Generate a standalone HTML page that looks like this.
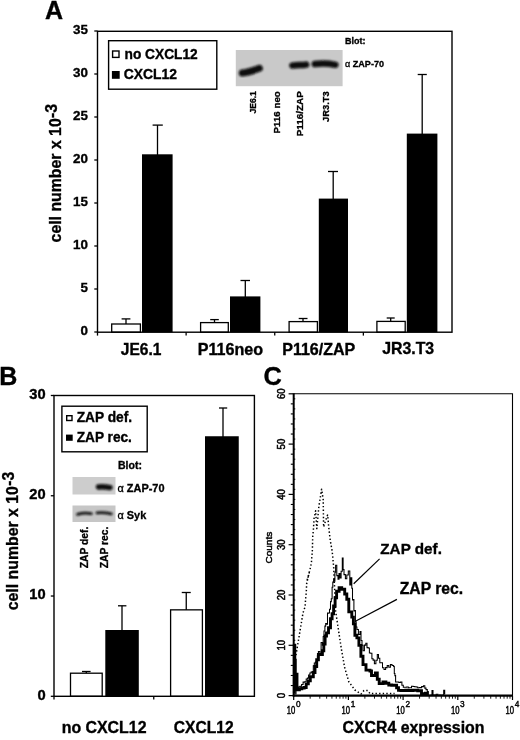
<!DOCTYPE html>
<html><head><meta charset="utf-8"><title>Figure</title>
<style>
html,body{margin:0;padding:0;background:#fff;}
svg{display:block;font-family:"Liberation Sans", Arial, Helvetica, sans-serif;fill:#000;}
</style></head><body>
<svg width="520" height="740" viewBox="0 0 520 740">
<defs><filter id="bl" x="-20%" y="-50%" width="140%" height="200%"><feGaussianBlur stdDeviation="0.9"/></filter></defs>
<rect x="0" y="0" width="520" height="740" fill="#fff" stroke="none"/>
<text x="45.1" y="19.4" font-size="25" font-weight="bold" text-anchor="start" stroke="#000" stroke-width="0.35">A</text>
<line x1="126" y1="318.9" x2="126" y2="324.4" stroke="#000" stroke-width="1.3"/>
<line x1="121.6" y1="318.9" x2="130.4" y2="318.9" stroke="#000" stroke-width="1.3"/>
<rect x="111.69999999999999" y="324.0" width="28.7" height="8.2" fill="#fff" stroke="#000" stroke-width="1.3"/>
<line x1="157.5" y1="125.1" x2="157.5" y2="155.3" stroke="#000" stroke-width="1.3"/>
<line x1="152.6" y1="125.1" x2="162.8" y2="125.1" stroke="#000" stroke-width="1.3"/>
<rect x="142" y="154.3" width="30.6" height="177.9" fill="#000" stroke="none" stroke-width="0"/>
<line x1="214.5" y1="319.6" x2="214.5" y2="323" stroke="#000" stroke-width="1.3"/>
<line x1="210.2" y1="319.6" x2="218.8" y2="319.6" stroke="#000" stroke-width="1.3"/>
<rect x="200.6" y="322.6" width="27.7" height="9.6" fill="#fff" stroke="#000" stroke-width="1.3"/>
<line x1="245.3" y1="280.5" x2="245.3" y2="297.4" stroke="#000" stroke-width="1.3"/>
<line x1="240.5" y1="280.5" x2="250" y2="280.5" stroke="#000" stroke-width="1.3"/>
<rect x="230" y="296.4" width="30.4" height="35.8" fill="#000" stroke="none" stroke-width="0"/>
<line x1="303" y1="318.5" x2="303" y2="322" stroke="#000" stroke-width="1.3"/>
<line x1="298.7" y1="318.5" x2="307.5" y2="318.5" stroke="#000" stroke-width="1.3"/>
<rect x="289.1" y="321.6" width="28.3" height="10.6" fill="#fff" stroke="#000" stroke-width="1.3"/>
<line x1="333.2" y1="171.5" x2="333.2" y2="199.6" stroke="#000" stroke-width="1.3"/>
<line x1="328" y1="171.5" x2="338" y2="171.5" stroke="#000" stroke-width="1.3"/>
<rect x="318.8" y="198.6" width="29.2" height="133.6" fill="#000" stroke="none" stroke-width="0"/>
<line x1="390.7" y1="318" x2="390.7" y2="321.8" stroke="#000" stroke-width="1.3"/>
<line x1="386.7" y1="318" x2="394.7" y2="318" stroke="#000" stroke-width="1.3"/>
<rect x="376.90000000000003" y="321.40000000000003" width="28.3" height="10.8" fill="#fff" stroke="#000" stroke-width="1.3"/>
<line x1="422.2" y1="74.5" x2="422.2" y2="134.6" stroke="#000" stroke-width="1.3"/>
<line x1="417.7" y1="74.5" x2="426.8" y2="74.5" stroke="#000" stroke-width="1.3"/>
<rect x="406.8" y="133.6" width="30.6" height="198.6" fill="#000" stroke="none" stroke-width="0"/>
<rect x="97.5" y="31.3" width="354.5" height="300.9" fill="none" stroke="#000" stroke-width="1.4"/>
<line x1="94.3" y1="332.0" x2="97.5" y2="332.0" stroke="#000" stroke-width="1.3"/>
<text x="88" y="335.1" font-size="13.4" font-weight="bold" text-anchor="end" textLength="7.45" lengthAdjust="spacingAndGlyphs" stroke="#000" stroke-width="0.35">0</text>
<line x1="94.3" y1="289.0" x2="97.5" y2="289.0" stroke="#000" stroke-width="1.3"/>
<text x="88" y="292.1" font-size="13.4" font-weight="bold" text-anchor="end" textLength="7.45" lengthAdjust="spacingAndGlyphs" stroke="#000" stroke-width="0.35">5</text>
<line x1="94.3" y1="246.0" x2="97.5" y2="246.0" stroke="#000" stroke-width="1.3"/>
<text x="88" y="249.1" font-size="13.4" font-weight="bold" text-anchor="end" textLength="14.9" lengthAdjust="spacingAndGlyphs" stroke="#000" stroke-width="0.35">10</text>
<line x1="94.3" y1="203.0" x2="97.5" y2="203.0" stroke="#000" stroke-width="1.3"/>
<text x="88" y="206.1" font-size="13.4" font-weight="bold" text-anchor="end" textLength="14.9" lengthAdjust="spacingAndGlyphs" stroke="#000" stroke-width="0.35">15</text>
<line x1="94.3" y1="160.0" x2="97.5" y2="160.0" stroke="#000" stroke-width="1.3"/>
<text x="88" y="163.1" font-size="13.4" font-weight="bold" text-anchor="end" textLength="14.9" lengthAdjust="spacingAndGlyphs" stroke="#000" stroke-width="0.35">20</text>
<line x1="94.3" y1="117.0" x2="97.5" y2="117.0" stroke="#000" stroke-width="1.3"/>
<text x="88" y="120.1" font-size="13.4" font-weight="bold" text-anchor="end" textLength="14.9" lengthAdjust="spacingAndGlyphs" stroke="#000" stroke-width="0.35">25</text>
<line x1="94.3" y1="74.0" x2="97.5" y2="74.0" stroke="#000" stroke-width="1.3"/>
<text x="88" y="77.1" font-size="13.4" font-weight="bold" text-anchor="end" textLength="14.9" lengthAdjust="spacingAndGlyphs" stroke="#000" stroke-width="0.35">30</text>
<line x1="94.3" y1="31.0" x2="97.5" y2="31.0" stroke="#000" stroke-width="1.3"/>
<text x="88" y="34.1" font-size="13.4" font-weight="bold" text-anchor="end" textLength="14.9" lengthAdjust="spacingAndGlyphs" stroke="#000" stroke-width="0.35">35</text>
<line x1="97.5" y1="332.2" x2="97.5" y2="335.6" stroke="#000" stroke-width="1.3"/>
<line x1="186.12" y1="332.2" x2="186.12" y2="335.6" stroke="#000" stroke-width="1.3"/>
<line x1="274.74" y1="332.2" x2="274.74" y2="335.6" stroke="#000" stroke-width="1.3"/>
<line x1="363.36" y1="332.2" x2="363.36" y2="335.6" stroke="#000" stroke-width="1.3"/>
<text x="61.5" y="242.4" font-size="16.6" font-weight="bold" text-anchor="start" textLength="124.1" lengthAdjust="spacingAndGlyphs" transform="rotate(-90 61.5 242.4)" stroke="#000" stroke-width="0.35">cell number x 10</text>
<text x="57" y="118.2" font-size="16" font-weight="bold" text-anchor="start" textLength="14.3" lengthAdjust="spacingAndGlyphs" transform="rotate(-90 57 118.2)" stroke="#000" stroke-width="0.35">-3</text>
<text x="120.8" y="355.2" font-size="15.7" font-weight="bold" text-anchor="start" textLength="40.6" lengthAdjust="spacingAndGlyphs" stroke="#000" stroke-width="0.35">JE6.1</text>
<text x="197.7" y="355.2" font-size="15.7" font-weight="bold" text-anchor="start" textLength="65.4" lengthAdjust="spacingAndGlyphs" stroke="#000" stroke-width="0.35">P116neo</text>
<text x="282.2" y="355.2" font-size="15.7" font-weight="bold" text-anchor="start" textLength="73.1" lengthAdjust="spacingAndGlyphs" stroke="#000" stroke-width="0.35">P116/ZAP</text>
<text x="382.2" y="354" font-size="15.7" font-weight="bold" text-anchor="start" textLength="52" lengthAdjust="spacingAndGlyphs" stroke="#000" stroke-width="0.35">JR3.T3</text>
<rect x="108.6" y="40.7" width="108.2" height="48.5" fill="#fff" stroke="#000" stroke-width="1.4"/>
<rect x="112.6" y="51" width="6.4" height="6.4" fill="#fff" stroke="#000" stroke-width="1.4"/>
<rect x="111.9" y="71" width="7.8" height="7.8" fill="#000" stroke="none" stroke-width="0"/>
<text x="124.5" y="59" font-size="13.8" font-weight="bold" text-anchor="start" textLength="73.2" lengthAdjust="spacingAndGlyphs" stroke="#000" stroke-width="0.35">no CXCL12</text>
<text x="123.8" y="79.4" font-size="13.8" font-weight="bold" text-anchor="start" textLength="53.2" lengthAdjust="spacingAndGlyphs" stroke="#000" stroke-width="0.35">CXCL12</text>
<rect x="235.8" y="50" width="106.8" height="36.2" fill="#c9c9c9"/>
<g filter="url(#bl)">
<path d="M242.3,72.9 C248,72.5 254,70.4 259.3,68.3" fill="none" stroke="#0a0a0a" stroke-width="7" stroke-linecap="round"/>
<path d="M292.4,65.6 C297,64.6 302,65.5 306.2,64.6" fill="none" stroke="#0a0a0a" stroke-width="6.4" stroke-linecap="round"/>
<path d="M314.8,64 C321,63.2 329,63.4 335.4,64.8" fill="none" stroke="#0a0a0a" stroke-width="6.4" stroke-linecap="round"/>
</g>
<text x="345" y="44" font-size="9" font-weight="bold" text-anchor="start" textLength="20.5" lengthAdjust="spacingAndGlyphs" stroke="#000" stroke-width="0.32">Blot:</text>
<text x="345" y="66.8" font-size="9" font-weight="bold" text-anchor="start" textLength="39" lengthAdjust="spacingAndGlyphs" stroke="#000" stroke-width="0.32"><tspan font-weight="normal">α</tspan> ZAP-70</text>
<text x="255.8" y="91.2" font-size="9.3" font-weight="bold" text-anchor="end" textLength="22.3" lengthAdjust="spacingAndGlyphs" transform="rotate(-90 255.8 91.2)" stroke="#000" stroke-width="0.32">JE6.1</text>
<text x="279.6" y="91.2" font-size="9.3" font-weight="bold" text-anchor="end" textLength="42.2" lengthAdjust="spacingAndGlyphs" transform="rotate(-90 279.6 91.2)" stroke="#000" stroke-width="0.32">P116 neo</text>
<text x="303.4" y="91.2" font-size="9.3" font-weight="bold" text-anchor="end" textLength="45" lengthAdjust="spacingAndGlyphs" transform="rotate(-90 303.4 91.2)" stroke="#000" stroke-width="0.32">P116/ZAP</text>
<text x="328.8" y="91.2" font-size="9.3" font-weight="bold" text-anchor="end" textLength="30.7" lengthAdjust="spacingAndGlyphs" transform="rotate(-90 328.8 91.2)" stroke="#000" stroke-width="0.32">JR3.T3</text>
<text x="-0.8" y="384.5" font-size="25" font-weight="bold" text-anchor="start" stroke="#000" stroke-width="0.35">B</text>
<line x1="86.3" y1="671.5" x2="86.3" y2="673.6" stroke="#000" stroke-width="1.3"/>
<line x1="82" y1="671.5" x2="90.6" y2="671.5" stroke="#000" stroke-width="1.3"/>
<rect x="70.5" y="673.2" width="31.7" height="23.1" fill="#fff" stroke="#000" stroke-width="1.3"/>
<line x1="122" y1="605.8" x2="122" y2="631" stroke="#000" stroke-width="1.3"/>
<line x1="118" y1="605.8" x2="126.4" y2="605.8" stroke="#000" stroke-width="1.3"/>
<rect x="105.3" y="630" width="33.5" height="66.3" fill="#000" stroke="none" stroke-width="0"/>
<line x1="186.25" y1="592.5" x2="186.25" y2="610.25" stroke="#000" stroke-width="1.3"/>
<line x1="181.75" y1="592.5" x2="190.75" y2="592.5" stroke="#000" stroke-width="1.3"/>
<rect x="170.6" y="609.85" width="31.8" height="86.45" fill="#fff" stroke="#000" stroke-width="1.3"/>
<line x1="223" y1="408" x2="223" y2="437.25" stroke="#000" stroke-width="1.3"/>
<line x1="219" y1="408" x2="227.2" y2="408" stroke="#000" stroke-width="1.3"/>
<rect x="205" y="436.25" width="33.75" height="260.05" fill="#000" stroke="none" stroke-width="0"/>
<rect x="54" y="395.5" width="200.4" height="300.8" fill="none" stroke="#000" stroke-width="1.4"/>
<line x1="50.8" y1="696.3" x2="54" y2="696.3" stroke="#000" stroke-width="1.3"/>
<text x="45.6" y="699.5999999999999" font-size="14.2" font-weight="bold" text-anchor="end" textLength="8.2" lengthAdjust="spacingAndGlyphs" stroke="#000" stroke-width="0.35">0</text>
<line x1="50.8" y1="596.03" x2="54" y2="596.03" stroke="#000" stroke-width="1.3"/>
<text x="45.6" y="599.3299999999999" font-size="14.2" font-weight="bold" text-anchor="end" textLength="16.3" lengthAdjust="spacingAndGlyphs" stroke="#000" stroke-width="0.35">10</text>
<line x1="50.8" y1="495.76" x2="54" y2="495.76" stroke="#000" stroke-width="1.3"/>
<text x="45.6" y="499.06" font-size="14.2" font-weight="bold" text-anchor="end" textLength="16.3" lengthAdjust="spacingAndGlyphs" stroke="#000" stroke-width="0.35">20</text>
<line x1="50.8" y1="395.48999999999995" x2="54" y2="395.48999999999995" stroke="#000" stroke-width="1.3"/>
<text x="45.6" y="398.78999999999996" font-size="14.2" font-weight="bold" text-anchor="end" textLength="16.3" lengthAdjust="spacingAndGlyphs" stroke="#000" stroke-width="0.35">30</text>
<line x1="54" y1="696.3" x2="54" y2="699.6" stroke="#000" stroke-width="1.3"/>
<line x1="153.75" y1="696.3" x2="153.75" y2="699.6" stroke="#000" stroke-width="1.3"/>
<text x="18.2" y="610.3" font-size="16.6" font-weight="bold" text-anchor="start" textLength="124.2" lengthAdjust="spacingAndGlyphs" transform="rotate(-90 18.2 610.3)" stroke="#000" stroke-width="0.35">cell number x 10</text>
<text x="14.2" y="485.8" font-size="16" font-weight="bold" text-anchor="start" textLength="13.9" lengthAdjust="spacingAndGlyphs" transform="rotate(-90 14.2 485.8)" stroke="#000" stroke-width="0.35">-3</text>
<text x="61.7" y="733" font-size="15.7" font-weight="bold" text-anchor="start" textLength="84.8" lengthAdjust="spacingAndGlyphs" stroke="#000" stroke-width="0.35">no CXCL12</text>
<text x="173.75" y="732.8" font-size="15.6" font-weight="bold" text-anchor="start" textLength="60" lengthAdjust="spacingAndGlyphs" stroke="#000" stroke-width="0.35">CXCL12</text>
<rect x="61.9" y="406.2" width="85.3" height="45.6" fill="#fff" stroke="#000" stroke-width="1.4"/>
<rect x="66.7" y="415.7" width="5.3" height="4.8" fill="#fff" stroke="#000" stroke-width="1.4"/>
<rect x="66" y="434.6" width="6.7" height="6.2" fill="#000" stroke="none" stroke-width="0"/>
<text x="76.7" y="422" font-size="14" font-weight="bold" text-anchor="start" textLength="55.4" lengthAdjust="spacingAndGlyphs" stroke="#000" stroke-width="0.35">ZAP def.</text>
<text x="76.7" y="441.7" font-size="14" font-weight="bold" text-anchor="start" textLength="55.2" lengthAdjust="spacingAndGlyphs" stroke="#000" stroke-width="0.35">ZAP rec.</text>
<text x="118" y="468.75" font-size="10.5" font-weight="bold" text-anchor="start" textLength="24" lengthAdjust="spacingAndGlyphs" stroke="#000" stroke-width="0.32">Blot:</text>
<rect x="72.5" y="477" width="43" height="17.5" fill="#cdcdcd"/>
<rect x="72.5" y="505.5" width="43" height="16.5" fill="#c6c6c6"/>
<g filter="url(#bl)">
<path d="M98.5,487 C102,486.6 106,486.9 110,487.6" fill="none" stroke="#0a0a0a" stroke-width="5.4" stroke-linecap="round"/>
<path d="M77.5,514.3 C82,513 87,513 91.3,513.6" fill="none" stroke="#111" stroke-width="2.8" stroke-linecap="round"/>
<path d="M97,512.8 C101,512.3 107,512.8 111.3,513.8" fill="none" stroke="#111" stroke-width="2.8" stroke-linecap="round"/>
</g>
<text x="117.5" y="492" font-size="10.5" font-weight="bold" text-anchor="start" textLength="47" lengthAdjust="spacingAndGlyphs" stroke="#000" stroke-width="0.32"><tspan font-weight="normal">α</tspan> ZAP-70</text>
<text x="117.5" y="518.75" font-size="10.5" font-weight="bold" text-anchor="start" textLength="28.75" lengthAdjust="spacingAndGlyphs" stroke="#000" stroke-width="0.32"><tspan font-weight="normal">α</tspan> Syk</text>
<text x="87.5" y="526.75" font-size="10" font-weight="bold" text-anchor="end" textLength="41.5" lengthAdjust="spacingAndGlyphs" transform="rotate(-90 87.5 526.75)" stroke="#000" stroke-width="0.32">ZAP def.</text>
<text x="107.75" y="526.75" font-size="10" font-weight="bold" text-anchor="end" textLength="41.5" lengthAdjust="spacingAndGlyphs" transform="rotate(-90 107.75 526.75)" stroke="#000" stroke-width="0.32">ZAP rec.</text>
<text x="263.6" y="385.3" font-size="25.3" font-weight="bold" text-anchor="start" stroke="#000" stroke-width="0.35">C</text>
<path d="M293.8,662.0 L296.0,655.0 L300.0,631.0 L303.0,613.0 L305.0,607.0 L306.4,590.0 L306.6,584.0 L308.6,575.0 L307.2,580.0 L309.6,571.0 L308.4,576.0 L310.6,567.0 L311.4,562.7 L312.4,549.7 L312.7,536.8 L313.5,528.6 L314.0,518.9 L315.6,510.8 L316.8,528.6 L318.9,506.0 L320.0,499.5 L321.6,489.2 L323.2,499.5 L323.6,527.0 L325.5,521.0 L327.6,514.9 L328.9,528.6 L330.2,540.0 L332.2,551.4 L333.6,566.0 L335.6,611.0 L338.6,631.0 L341.7,651.0 L344.7,667.6 L348.8,681.8 L354.9,690.0 L361.0,694.0 L364.0,690.5 L367.7,690.5 L370.0,693.6 L394.6,693.6" fill="none" stroke="#000" stroke-width="1.5" stroke-dasharray="1.4 2.2" stroke-linejoin="round"/>
<path d="M294.5,694.0 H296.0 V689.8 H297.3 V689.2 H298.7 V686.7 H300.0 V686.3 H301.6 V684.4 H303.1 V682.1 H304.6 V681.8 H306.2 V678.9 H307.4 V678.1 H308.6 V674.9 H309.9 V672.9 H311.1 V672.1 H312.3 V671.8 H313.3 V665.7 H314.3 V663.0 H315.4 V662.0 H316.4 V660.8 H317.4 V655.8 H318.4 V651.6 H319.7 V652.2 H321.1 V642.5 H322.4 V645.2 H323.2 V636.5 H324.0 V630.9 H324.9 V626.1 H325.7 V623.5 H326.5 V624.3 H327.5 V613.1 H328.5 V613.0 H329.5 V609.3 H330.5 V601.6 H331.3 V598.8 H332.1 V587.3 H332.8 V582.1 H333.6 V579.0 H334.3 V581.1 H334.9 V572.2 H335.6 V565.2 H336.8 V575.6 H338.0 V579.3 H339.0 V573.5 H340.0 V577.9 H341.1 V571.2 H342.3 V558.0 H343.1 V569.6 H344.0 V574.6 H345.4 V578.8 H346.8 V575.0 H348.3 V571.0 H349.8 V584.9 H350.8 V577.7 H351.8 V588.2 H352.5 V600.0 H353.2 V599.5 H353.9 V611.0 H354.6 V610.5 H355.4 V621.7 H356.1 V627.0 H356.9 V629.5 H358.4 V634.4 H360.0 V631.6 H361.0 V640.5 H362.0 V645.3 H363.0 V650.8 H364.4 V645.1 H365.8 V643.2 H367.0 V647.6 H368.2 V648.0 H369.4 V653.0 H370.6 V653.2 H371.9 V658.7 H373.1 V660.1 H374.4 V663.7 H375.9 V660.2 H377.3 V654.5 H378.5 V658.2 H379.8 V662.8 H381.0 V662.7 H382.5 V667.7 H384.0 V669.5 H385.6 V667.6 H387.2 V665.6 H388.8 V667.2 H390.4 V664.5 H392.0 V665.4 H393.6 V666.4 H394.3 V673.4 H394.9 V675.6 H395.6 V681.9 H397.2 V681.9 H398.8 V682.5 H400.4 V682.1 H401.9 V685.3 H403.3 V687.3 H405.0 V687.3 H406.6 V686.9 H408.3 V687.8 H410.0 V687.7 H411.5 V686.2 H413.1 V686.4 H414.6 V686.8 H416.2 V687.0 H417.7 V687.7 H419.6 V687.6 H421.6 V686.6 H423.5 V685.7 H424.8 V688.1 H426.0 V689.6 H427.3 V691.4 H428.3 V695.2 H431.0 V694.9 H432.0 V690.4 H433.0 V694.9 H434.6 V694.9 H436.2 V694.2 H437.9 V695.2 H439.5 V695.0 H441.1 V695.2 H442.7 V695.1 H443.7 V690.2 H444.7 V694.6" fill="none" stroke="#000" stroke-width="1.05" stroke-linejoin="miter"/>
<path d="M294.3,693.6 H294.3 V678.6 H294.3 V661.3 H294.3 V645.2 H294.8 V660.1 H295.3 V674.2 H297.0 V689.8 H299.4 V688.8 H301.8 V688.0 H304.2 V687.5 H306.2 V683.9 H308.3 V680.9 H310.3 V676.7 H313.3 V672.5 H315.0 V666.5 H316.7 V659.7 H318.4 V654.5 H322.4 V650.8 H323.8 V644.0 H325.1 V636.0 H326.5 V632.9 H328.5 V627.8 H330.5 V618.8 H332.1 V613.8 H333.6 V606.0 H335.1 V597.7 H336.6 V591.3 H339.1 V587.6 H341.7 V589.3 H344.7 V594.0 H346.8 V599.2 H348.8 V611.9 H351.8 V617.1 H353.4 V623.9 H354.9 V635.2 H356.9 V637.9 H358.9 V645.4 H360.9 V656.2 H363.0 V664.6 H366.0 V670.1 H370.0 V671.0 H371.5 V675.5 H375.4 V673.0 H377.3 V679.2 H379.2 V683.6 H383.0 V682.0 H385.9 V683.2 H388.8 V685.0 H391.7 V685.4 H394.6 V685.2 H396.6 V687.7 H398.5 V690.4 H400.9 V690.5 H403.3 V690.5 H405.7 V690.1 H408.1 V690.5 H410.5 V690.5 H412.9 V690.2 H415.3 V690.3 H417.7 V690.8 H421.5 V693.8 H425.4 V693.2 H427.0 V695.3" fill="none" stroke="#000" stroke-width="2.9" stroke-linejoin="miter"/>
<path d="M293.7,393.8 H512.5 V695.6" fill="none" stroke="#000" stroke-width="1.1"/>
<line x1="293.7" y1="393.3" x2="293.7" y2="696.6" stroke="#000" stroke-width="2"/>
<line x1="292.7" y1="695.6" x2="513.0" y2="695.6" stroke="#000" stroke-width="2.2"/>
<line x1="288.6" y1="695.6" x2="293.7" y2="695.6" stroke="#000" stroke-width="1.2"/>
<text x="284.6" y="695.6" font-size="10" font-weight="normal" text-anchor="middle" textLength="5.4" lengthAdjust="spacingAndGlyphs" transform="rotate(-90 284.6 695.6)" stroke="#000" stroke-width="0.5">0</text>
<line x1="293.7" y1="690.57" x2="295.3" y2="690.57" stroke="#000" stroke-width="1"/>
<line x1="290.8" y1="685.5400000000001" x2="293.7" y2="685.5400000000001" stroke="#000" stroke-width="1.1"/>
<line x1="293.7" y1="680.51" x2="295.3" y2="680.51" stroke="#000" stroke-width="1"/>
<line x1="290.8" y1="675.48" x2="293.7" y2="675.48" stroke="#000" stroke-width="1.1"/>
<line x1="293.7" y1="670.45" x2="295.3" y2="670.45" stroke="#000" stroke-width="1"/>
<line x1="290.8" y1="665.4200000000001" x2="293.7" y2="665.4200000000001" stroke="#000" stroke-width="1.1"/>
<line x1="293.7" y1="660.39" x2="295.3" y2="660.39" stroke="#000" stroke-width="1"/>
<line x1="290.8" y1="655.36" x2="293.7" y2="655.36" stroke="#000" stroke-width="1.1"/>
<line x1="293.7" y1="650.33" x2="295.3" y2="650.33" stroke="#000" stroke-width="1"/>
<line x1="288.6" y1="645.3000000000001" x2="293.7" y2="645.3000000000001" stroke="#000" stroke-width="1.2"/>
<text x="284.6" y="645.3000000000001" font-size="10" font-weight="normal" text-anchor="middle" textLength="10.6" lengthAdjust="spacingAndGlyphs" transform="rotate(-90 284.6 645.3000000000001)" stroke="#000" stroke-width="0.5">10</text>
<line x1="293.7" y1="640.27" x2="295.3" y2="640.27" stroke="#000" stroke-width="1"/>
<line x1="290.8" y1="635.24" x2="293.7" y2="635.24" stroke="#000" stroke-width="1.1"/>
<line x1="293.7" y1="630.21" x2="295.3" y2="630.21" stroke="#000" stroke-width="1"/>
<line x1="290.8" y1="625.1800000000001" x2="293.7" y2="625.1800000000001" stroke="#000" stroke-width="1.1"/>
<line x1="293.7" y1="620.15" x2="295.3" y2="620.15" stroke="#000" stroke-width="1"/>
<line x1="290.8" y1="615.12" x2="293.7" y2="615.12" stroke="#000" stroke-width="1.1"/>
<line x1="293.7" y1="610.09" x2="295.3" y2="610.09" stroke="#000" stroke-width="1"/>
<line x1="290.8" y1="605.0600000000001" x2="293.7" y2="605.0600000000001" stroke="#000" stroke-width="1.1"/>
<line x1="293.7" y1="600.03" x2="295.3" y2="600.03" stroke="#000" stroke-width="1"/>
<line x1="288.6" y1="595.0" x2="293.7" y2="595.0" stroke="#000" stroke-width="1.2"/>
<text x="284.6" y="595.0" font-size="10" font-weight="normal" text-anchor="middle" textLength="10.6" lengthAdjust="spacingAndGlyphs" transform="rotate(-90 284.6 595.0)" stroke="#000" stroke-width="0.5">20</text>
<line x1="293.7" y1="589.97" x2="295.3" y2="589.97" stroke="#000" stroke-width="1"/>
<line x1="290.8" y1="584.94" x2="293.7" y2="584.94" stroke="#000" stroke-width="1.1"/>
<line x1="293.7" y1="579.91" x2="295.3" y2="579.91" stroke="#000" stroke-width="1"/>
<line x1="290.8" y1="574.88" x2="293.7" y2="574.88" stroke="#000" stroke-width="1.1"/>
<line x1="293.7" y1="569.85" x2="295.3" y2="569.85" stroke="#000" stroke-width="1"/>
<line x1="290.8" y1="564.82" x2="293.7" y2="564.82" stroke="#000" stroke-width="1.1"/>
<line x1="293.7" y1="559.79" x2="295.3" y2="559.79" stroke="#000" stroke-width="1"/>
<line x1="290.8" y1="554.76" x2="293.7" y2="554.76" stroke="#000" stroke-width="1.1"/>
<line x1="293.7" y1="549.73" x2="295.3" y2="549.73" stroke="#000" stroke-width="1"/>
<line x1="288.6" y1="544.7" x2="293.7" y2="544.7" stroke="#000" stroke-width="1.2"/>
<text x="284.6" y="544.7" font-size="10" font-weight="normal" text-anchor="middle" textLength="10.6" lengthAdjust="spacingAndGlyphs" transform="rotate(-90 284.6 544.7)" stroke="#000" stroke-width="0.5">30</text>
<line x1="293.7" y1="539.6700000000001" x2="295.3" y2="539.6700000000001" stroke="#000" stroke-width="1"/>
<line x1="290.8" y1="534.64" x2="293.7" y2="534.64" stroke="#000" stroke-width="1.1"/>
<line x1="293.7" y1="529.61" x2="295.3" y2="529.61" stroke="#000" stroke-width="1"/>
<line x1="290.8" y1="524.58" x2="293.7" y2="524.58" stroke="#000" stroke-width="1.1"/>
<line x1="293.7" y1="519.55" x2="295.3" y2="519.55" stroke="#000" stroke-width="1"/>
<line x1="290.8" y1="514.52" x2="293.7" y2="514.52" stroke="#000" stroke-width="1.1"/>
<line x1="293.7" y1="509.49" x2="295.3" y2="509.49" stroke="#000" stroke-width="1"/>
<line x1="290.8" y1="504.46000000000004" x2="293.7" y2="504.46000000000004" stroke="#000" stroke-width="1.1"/>
<line x1="293.7" y1="499.43" x2="295.3" y2="499.43" stroke="#000" stroke-width="1"/>
<line x1="288.6" y1="494.4" x2="293.7" y2="494.4" stroke="#000" stroke-width="1.2"/>
<text x="284.6" y="494.4" font-size="10" font-weight="normal" text-anchor="middle" textLength="10.6" lengthAdjust="spacingAndGlyphs" transform="rotate(-90 284.6 494.4)" stroke="#000" stroke-width="0.5">40</text>
<line x1="293.7" y1="489.37" x2="295.3" y2="489.37" stroke="#000" stroke-width="1"/>
<line x1="290.8" y1="484.34000000000003" x2="293.7" y2="484.34000000000003" stroke="#000" stroke-width="1.1"/>
<line x1="293.7" y1="479.31" x2="295.3" y2="479.31" stroke="#000" stroke-width="1"/>
<line x1="290.8" y1="474.28" x2="293.7" y2="474.28" stroke="#000" stroke-width="1.1"/>
<line x1="293.7" y1="469.25" x2="295.3" y2="469.25" stroke="#000" stroke-width="1"/>
<line x1="290.8" y1="464.22" x2="293.7" y2="464.22" stroke="#000" stroke-width="1.1"/>
<line x1="293.7" y1="459.19" x2="295.3" y2="459.19" stroke="#000" stroke-width="1"/>
<line x1="290.8" y1="454.16" x2="293.7" y2="454.16" stroke="#000" stroke-width="1.1"/>
<line x1="293.7" y1="449.13" x2="295.3" y2="449.13" stroke="#000" stroke-width="1"/>
<line x1="288.6" y1="444.1" x2="293.7" y2="444.1" stroke="#000" stroke-width="1.2"/>
<text x="284.6" y="444.1" font-size="10" font-weight="normal" text-anchor="middle" textLength="10.6" lengthAdjust="spacingAndGlyphs" transform="rotate(-90 284.6 444.1)" stroke="#000" stroke-width="0.5">50</text>
<line x1="293.7" y1="439.07" x2="295.3" y2="439.07" stroke="#000" stroke-width="1"/>
<line x1="290.8" y1="434.04" x2="293.7" y2="434.04" stroke="#000" stroke-width="1.1"/>
<line x1="293.7" y1="429.01" x2="295.3" y2="429.01" stroke="#000" stroke-width="1"/>
<line x1="290.8" y1="423.98" x2="293.7" y2="423.98" stroke="#000" stroke-width="1.1"/>
<line x1="293.7" y1="418.95" x2="295.3" y2="418.95" stroke="#000" stroke-width="1"/>
<line x1="290.8" y1="413.92" x2="293.7" y2="413.92" stroke="#000" stroke-width="1.1"/>
<line x1="293.7" y1="408.89" x2="295.3" y2="408.89" stroke="#000" stroke-width="1"/>
<line x1="290.8" y1="403.86" x2="293.7" y2="403.86" stroke="#000" stroke-width="1.1"/>
<line x1="293.7" y1="398.83" x2="295.3" y2="398.83" stroke="#000" stroke-width="1"/>
<line x1="288.6" y1="393.8" x2="293.7" y2="393.8" stroke="#000" stroke-width="1.2"/>
<text x="284.6" y="393.8" font-size="10" font-weight="normal" text-anchor="middle" textLength="10.6" lengthAdjust="spacingAndGlyphs" transform="rotate(-90 284.6 393.8)" stroke="#000" stroke-width="0.5">60</text>
<line x1="293.7" y1="695.6" x2="293.7" y2="700" stroke="#000" stroke-width="1.2"/>
<text x="286.8" y="713.5" font-size="10" font-weight="normal" text-anchor="start" textLength="8.5" lengthAdjust="spacingAndGlyphs" stroke="#000" stroke-width="0.45">10</text>
<text x="296.0" y="706.6" font-size="8.6" font-weight="normal" text-anchor="start" textLength="4.6" lengthAdjust="spacingAndGlyphs" stroke="#000" stroke-width="0.4">0</text>
<line x1="310.16634076281974" y1="695.6" x2="310.16634076281974" y2="698.7" stroke="#000" stroke-width="0.9"/>
<line x1="319.7985326331655" y1="695.6" x2="319.7985326331655" y2="698.7" stroke="#000" stroke-width="0.9"/>
<line x1="326.63268152563955" y1="695.6" x2="326.63268152563955" y2="698.7" stroke="#000" stroke-width="0.9"/>
<line x1="331.9336592371802" y1="695.6" x2="331.9336592371802" y2="698.7" stroke="#000" stroke-width="0.9"/>
<line x1="336.2648733959853" y1="695.6" x2="336.2648733959853" y2="698.7" stroke="#000" stroke-width="0.9"/>
<line x1="339.92686278877983" y1="695.6" x2="339.92686278877983" y2="698.7" stroke="#000" stroke-width="0.9"/>
<line x1="343.0990222884593" y1="695.6" x2="343.0990222884593" y2="698.7" stroke="#000" stroke-width="0.9"/>
<line x1="345.8970652663311" y1="695.6" x2="345.8970652663311" y2="698.7" stroke="#000" stroke-width="0.9"/>
<line x1="348.4" y1="695.6" x2="348.4" y2="700" stroke="#000" stroke-width="1.2"/>
<text x="341.5" y="713.5" font-size="10" font-weight="normal" text-anchor="start" textLength="8.5" lengthAdjust="spacingAndGlyphs" stroke="#000" stroke-width="0.45">10</text>
<text x="350.7" y="706.6" font-size="8.6" font-weight="normal" text-anchor="start" textLength="4.6" lengthAdjust="spacingAndGlyphs" stroke="#000" stroke-width="0.4">1</text>
<line x1="364.86634076281973" y1="695.6" x2="364.86634076281973" y2="698.7" stroke="#000" stroke-width="0.9"/>
<line x1="374.4985326331655" y1="695.6" x2="374.4985326331655" y2="698.7" stroke="#000" stroke-width="0.9"/>
<line x1="381.33268152563954" y1="695.6" x2="381.33268152563954" y2="698.7" stroke="#000" stroke-width="0.9"/>
<line x1="386.6336592371802" y1="695.6" x2="386.6336592371802" y2="698.7" stroke="#000" stroke-width="0.9"/>
<line x1="390.9648733959853" y1="695.6" x2="390.9648733959853" y2="698.7" stroke="#000" stroke-width="0.9"/>
<line x1="394.6268627887798" y1="695.6" x2="394.6268627887798" y2="698.7" stroke="#000" stroke-width="0.9"/>
<line x1="397.7990222884593" y1="695.6" x2="397.7990222884593" y2="698.7" stroke="#000" stroke-width="0.9"/>
<line x1="400.5970652663311" y1="695.6" x2="400.5970652663311" y2="698.7" stroke="#000" stroke-width="0.9"/>
<line x1="403.1" y1="695.6" x2="403.1" y2="700" stroke="#000" stroke-width="1.2"/>
<text x="396.20000000000005" y="713.5" font-size="10" font-weight="normal" text-anchor="start" textLength="8.5" lengthAdjust="spacingAndGlyphs" stroke="#000" stroke-width="0.45">10</text>
<text x="405.40000000000003" y="706.6" font-size="8.6" font-weight="normal" text-anchor="start" textLength="4.6" lengthAdjust="spacingAndGlyphs" stroke="#000" stroke-width="0.4">2</text>
<line x1="419.5663407628198" y1="695.6" x2="419.5663407628198" y2="698.7" stroke="#000" stroke-width="0.9"/>
<line x1="429.19853263316554" y1="695.6" x2="429.19853263316554" y2="698.7" stroke="#000" stroke-width="0.9"/>
<line x1="436.0326815256396" y1="695.6" x2="436.0326815256396" y2="698.7" stroke="#000" stroke-width="0.9"/>
<line x1="441.33365923718026" y1="695.6" x2="441.33365923718026" y2="698.7" stroke="#000" stroke-width="0.9"/>
<line x1="445.66487339598535" y1="695.6" x2="445.66487339598535" y2="698.7" stroke="#000" stroke-width="0.9"/>
<line x1="449.32686278877986" y1="695.6" x2="449.32686278877986" y2="698.7" stroke="#000" stroke-width="0.9"/>
<line x1="452.49902228845934" y1="695.6" x2="452.49902228845934" y2="698.7" stroke="#000" stroke-width="0.9"/>
<line x1="455.2970652663311" y1="695.6" x2="455.2970652663311" y2="698.7" stroke="#000" stroke-width="0.9"/>
<line x1="457.8" y1="695.6" x2="457.8" y2="700" stroke="#000" stroke-width="1.2"/>
<text x="450.90000000000003" y="713.5" font-size="10" font-weight="normal" text-anchor="start" textLength="8.5" lengthAdjust="spacingAndGlyphs" stroke="#000" stroke-width="0.45">10</text>
<text x="460.1" y="706.6" font-size="8.6" font-weight="normal" text-anchor="start" textLength="4.6" lengthAdjust="spacingAndGlyphs" stroke="#000" stroke-width="0.4">3</text>
<line x1="474.26634076281977" y1="695.6" x2="474.26634076281977" y2="698.7" stroke="#000" stroke-width="0.9"/>
<line x1="483.89853263316553" y1="695.6" x2="483.89853263316553" y2="698.7" stroke="#000" stroke-width="0.9"/>
<line x1="490.7326815256396" y1="695.6" x2="490.7326815256396" y2="698.7" stroke="#000" stroke-width="0.9"/>
<line x1="496.03365923718025" y1="695.6" x2="496.03365923718025" y2="698.7" stroke="#000" stroke-width="0.9"/>
<line x1="500.36487339598534" y1="695.6" x2="500.36487339598534" y2="698.7" stroke="#000" stroke-width="0.9"/>
<line x1="504.02686278877985" y1="695.6" x2="504.02686278877985" y2="698.7" stroke="#000" stroke-width="0.9"/>
<line x1="507.19902228845933" y1="695.6" x2="507.19902228845933" y2="698.7" stroke="#000" stroke-width="0.9"/>
<line x1="509.9970652663311" y1="695.6" x2="509.9970652663311" y2="698.7" stroke="#000" stroke-width="0.9"/>
<line x1="512.5" y1="695.6" x2="512.5" y2="700" stroke="#000" stroke-width="1.2"/>
<text x="505.6" y="713.5" font-size="10" font-weight="normal" text-anchor="start" textLength="8.5" lengthAdjust="spacingAndGlyphs" stroke="#000" stroke-width="0.45">10</text>
<text x="514.8" y="706.6" font-size="8.6" font-weight="normal" text-anchor="start" textLength="4.6" lengthAdjust="spacingAndGlyphs" stroke="#000" stroke-width="0.4">4</text>
<text x="272.3" y="563.5" font-size="9.6" font-weight="normal" text-anchor="start" textLength="31.7" lengthAdjust="spacingAndGlyphs" transform="rotate(-90 272.3 563.5)" stroke="#000" stroke-width="0.45">Counts</text>
<text x="342.5" y="733.4" font-size="15.8" font-weight="bold" text-anchor="start" textLength="142" lengthAdjust="spacingAndGlyphs" stroke="#000" stroke-width="0.35">CXCR4 expression</text>
<text x="380.3" y="554.4" font-size="15.4" font-weight="bold" text-anchor="start" textLength="61.6" lengthAdjust="spacingAndGlyphs" stroke="#000" stroke-width="0.35">ZAP def.</text>
<text x="399.7" y="594.4" font-size="15.6" font-weight="bold" text-anchor="start" textLength="63.5" lengthAdjust="spacingAndGlyphs" stroke="#000" stroke-width="0.35">ZAP rec.</text>
<line x1="379.6" y1="558.9" x2="353.7" y2="583.8" stroke="#000" stroke-width="1.2"/>
<line x1="396.9" y1="599.4" x2="355.4" y2="621.2" stroke="#000" stroke-width="1.2"/>
</svg>
</body></html>
